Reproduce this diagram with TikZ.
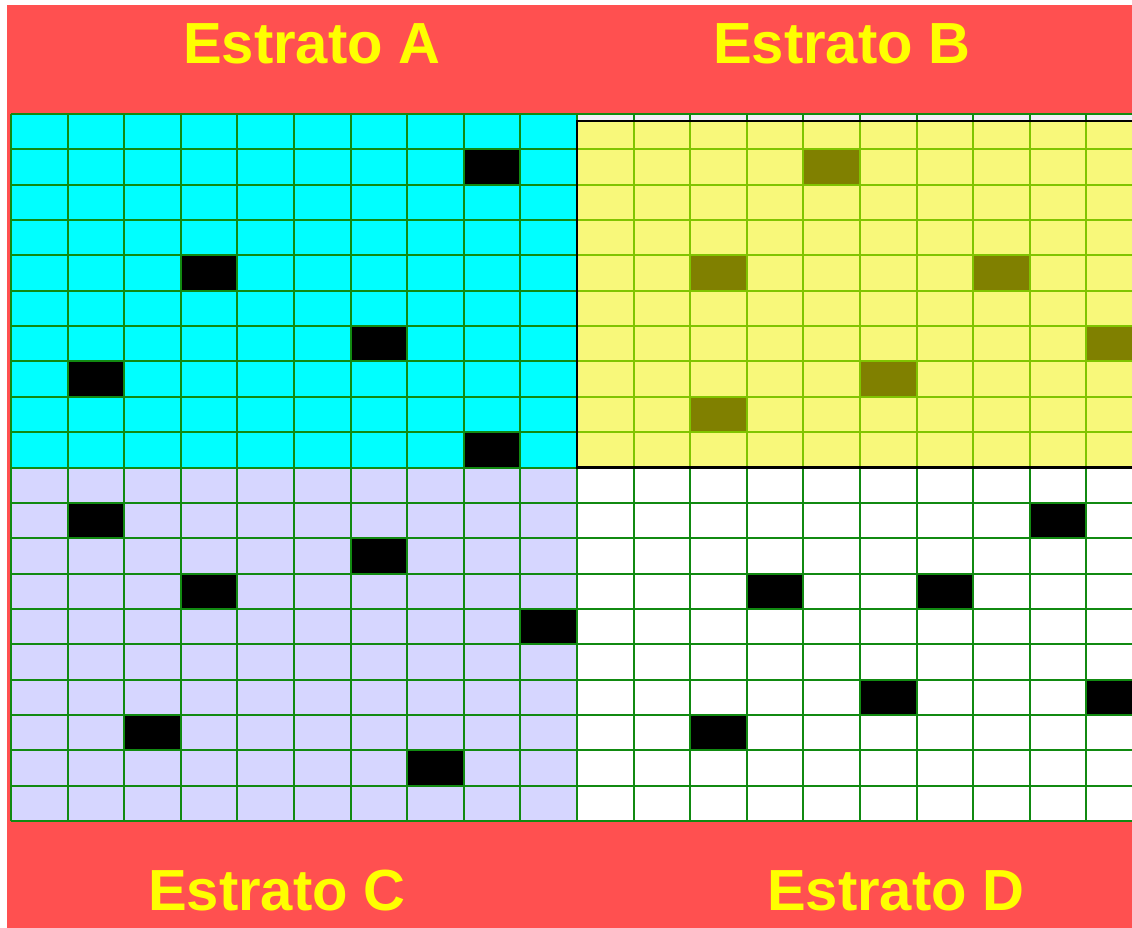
\documentclass[tikz,border=0pt]{standalone}
\usepackage{fontspec}
\setmainfont{Liberation Sans}
\usetikzlibrary{positioning}
\definecolor{bandred}{HTML}{FF5050}
\definecolor{labelyellow}{HTML}{FFFF00}
\definecolor{cellcyan}{HTML}{00FFFF}
\definecolor{cellyellow}{HTML}{F8F87A}
\definecolor{celllavender}{HTML}{D6D6FF}
\definecolor{cellolive}{HTML}{808000}
\definecolor{gridgreen}{HTML}{118A11}
\definecolor{gridlime}{HTML}{80C400}
\definecolor{stripgray}{HTML}{F0F0F8}
\newcommand{\cellw}{56.6}
\newcommand{\cellh}{35.35}

\begin{document}
\begin{tikzpicture}[x=0.5pt, y=-0.5pt,
    estrato/.style={anchor=base, text=labelyellow, font=\fontsize{29}{35}\selectfont\bfseries}]
    \useasboundingbox (0, 0) rectangle (1132, 928);
    \fill[bandred] (7, 5) rectangle (1132, 928);
    % quadrants
    \fill[cellcyan]     (11, 114)    rectangle (577, 467.5);
    \fill[stripgray]    (577, 114)   rectangle (1132, 121);
    \fill[cellyellow]   (577, 121)   rectangle (1132, 467.5);
    \fill[celllavender] (11, 467.5)  rectangle (577, 821);
    \fill[white]        (577, 467.5) rectangle (1132, 821);
    % sampled cells
    \foreach \c/\r in {8/1, 3/4, 6/6, 1/7, 8/9, 1/11, 6/12, 3/13, 9/14, 2/17, 7/18,
                       18/11, 13/13, 16/13, 15/16, 19/16, 12/17}
      \fill[black] (11+\c*\cellw, 114+\r*\cellh) rectangle ++(\cellw, \cellh);
    \foreach \c/\r in {14/1, 12/4, 17/4, 19/6, 15/7, 12/8}
      \fill[cellolive] (11+\c*\cellw, 114+\r*\cellh) rectangle ++(\cellw, \cellh);
    % grid
    \begin{scope}
      \clip (0, 0) rectangle (1132, 928);
      \foreach \i in {0,...,20}
        \draw[gridgreen, line width=1pt] (11, 114+\i*\cellh) -- (1132, 114+\i*\cellh);
      \foreach \i in {0,...,20}
        \draw[gridgreen, line width=1pt] (11+\i*\cellw, 114) -- (11+\i*\cellw, 821);
      \foreach \i in {1,...,9}
        \draw[gridlime, line width=1pt] (577, 114+\i*\cellh) -- (1132, 114+\i*\cellh);
      \foreach \i in {11,...,20}
        \draw[gridlime, line width=1pt] (11+\i*\cellw, 121) -- (11+\i*\cellw, 467.5);
      \draw[black, line width=1.3pt] (1140, 121) -- (577, 121) -- (577, 467.5) -- (1140, 467.5);
    \end{scope}
    % labels
    \node[estrato] (estratoA) at (312, 63)  {Estrato A};
    \node[estrato] (estratoB) at (842, 63)  {Estrato B};
    \node[estrato] (estratoC) at (277, 910) {Estrato C};
    \node[estrato] (estratoD) at (896, 910) {Estrato D};
  \end{tikzpicture}
\end{document}
